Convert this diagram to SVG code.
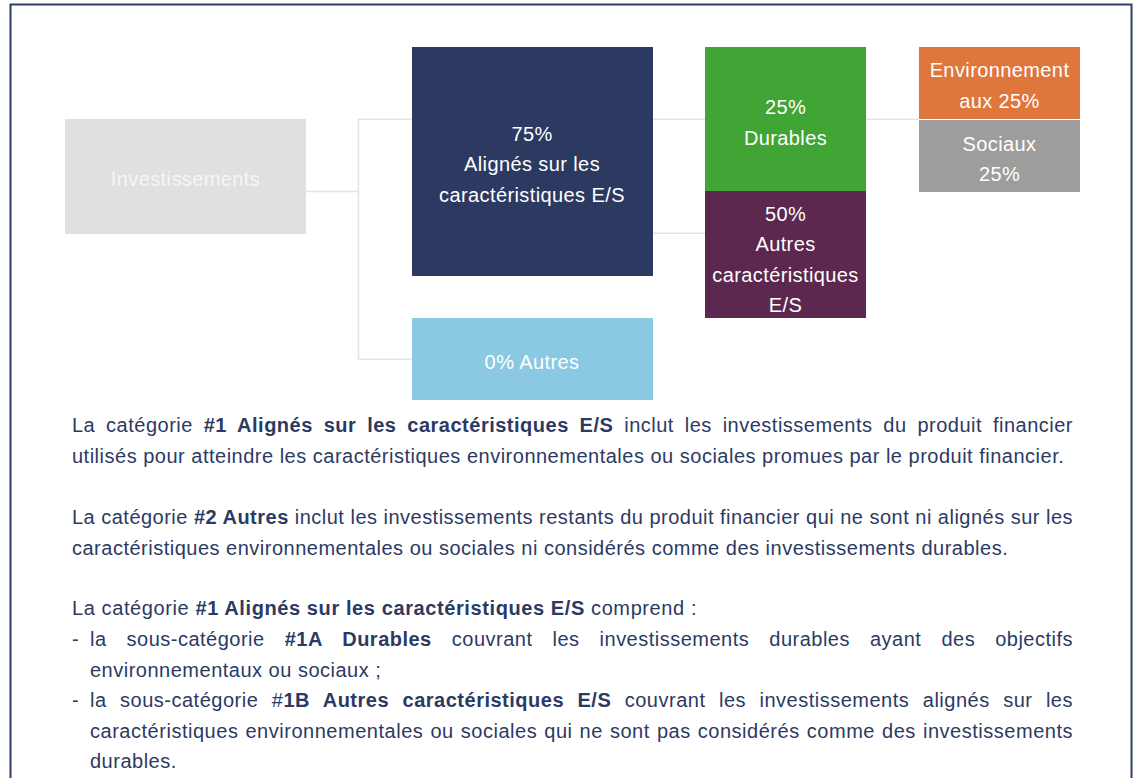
<svg xmlns="http://www.w3.org/2000/svg" width="1138" height="778" viewBox="0 0 1138 778">
  <style>
    .frame { fill: none; stroke: #2e3c69; stroke-width: 2; }
    .link { fill: none; stroke: #e4e4e4; stroke-width: 1.5; }
    .lbl { font-family: "Liberation Sans", Arial, Helvetica, sans-serif; font-size: 20px; fill: #ffffff; text-anchor: middle; letter-spacing: 0.4px; }
    .lbl.soft { fill: #f6f6f6; }
    .p { font-family: "Liberation Sans", Arial, Helvetica, sans-serif; font-size: 20px; fill: #2c3a63; letter-spacing: 0.5px; }
    .b { font-weight: bold; }
  </style>

  <!-- outer frame (open at the bottom) -->
  <path class="frame" d="M10.5,782 V4.5 H1131.5 V782"/>

  <!-- tree connectors -->
  <g id="connectors">
    <path class="link" d="M306,191.5 H358.5"/>
    <path class="link" d="M412,119.3 H358.5 V359.3 H412"/>
    <path class="link" d="M653,119.3 H705"/>
    <path class="link" d="M653,233.3 H705"/>
    <path class="link" d="M866,119.3 H919"/>
  </g>

  <g id="node-investissements">
    <rect x="65" y="119" width="241" height="115" fill="#e0e0de"/>
    <text class="lbl soft" x="185.5" y="186">Investissements</text>
  </g>

  <g id="node-alignes">
    <rect x="412" y="47" width="241" height="229" fill="#2c3a62"/>
    <text class="lbl" x="532" y="141">75%</text>
    <text class="lbl" x="532" y="171">Alignés sur les</text>
    <text class="lbl" x="532" y="202">caractéristiques E/S</text>
  </g>

  <g id="node-autres">
    <rect x="412" y="318" width="241" height="82" fill="#8bc8e2"/>
    <text class="lbl" x="532" y="369">0% Autres</text>
  </g>

  <g id="node-durables">
    <rect x="705" y="47" width="161" height="144" fill="#41a535"/>
    <text class="lbl" x="785.5" y="114">25%</text>
    <text class="lbl" x="785.5" y="145">Durables</text>
  </g>

  <g id="node-autres-es">
    <rect x="705" y="191" width="161" height="127" fill="#5c284f"/>
    <text class="lbl" x="785.5" y="221">50%</text>
    <text class="lbl" x="785.5" y="251">Autres</text>
    <text class="lbl" x="785.5" y="282">caractéristiques</text>
    <text class="lbl" x="785.5" y="312">E/S</text>
  </g>

  <g id="node-environnement">
    <rect x="919" y="47" width="161" height="72" fill="#df763c"/>
    <text class="lbl" x="999.5" y="77">Environnement</text>
    <text class="lbl" x="999.5" y="108">aux 25%</text>
  </g>

  <g id="node-sociaux">
    <rect x="919" y="120" width="161" height="72" fill="#9d9d9d"/>
    <text class="lbl" x="999.5" y="151">Sociaux</text>
    <text class="lbl" x="999.5" y="181">25%</text>
  </g>

  <!-- explanatory notes -->
  <g id="notes">
    <text class="p" x="72" y="432" word-spacing="4.8" textLength="1001" lengthAdjust="spacing">La catégorie <tspan class="b">#1 Alignés sur les caractéristiques E/S</tspan> inclut les investissements du produit financier</text>
    <text class="p" x="72" y="463">utilisés pour atteindre les caractéristiques environnementales ou sociales promues par le produit financier.</text>

    <text class="p" x="72" y="524" textLength="1001" lengthAdjust="spacing">La catégorie <tspan class="b">#2 Autres</tspan> inclut les investissements restants du produit financier qui ne sont ni alignés sur les</text>
    <text class="p" x="72" y="554.5">caractéristiques environnementales ou sociales ni considérés comme des investissements durables.</text>

    <text class="p" x="72" y="615" textLength="625" lengthAdjust="spacing">La catégorie <tspan class="b">#1 Alignés sur les caractéristiques E/S</tspan> comprend :</text>
    <text class="p" x="72" y="646">-</text>
    <text class="p" x="90" y="646" word-spacing="14" textLength="983" lengthAdjust="spacing">la sous-catégorie <tspan class="b">#1A Durables</tspan> couvrant les investissements durables ayant des objectifs</text>
    <text class="p" x="90" y="677">environnementaux ou sociaux ;</text>
    <text class="p" x="72" y="707">-</text>
    <text class="p" x="90" y="707" word-spacing="7.4" textLength="983" lengthAdjust="spacing">la sous-catégorie #<tspan class="b">1B Autres caractéristiques E/S</tspan> couvrant les investissements alignés sur les</text>
    <text class="p" x="90" y="738" word-spacing="1" textLength="983" lengthAdjust="spacing">caractéristiques environnementales ou sociales qui ne sont pas considérés comme des investissements</text>
    <text class="p" x="90" y="768">durables.</text>
  </g>
</svg>
